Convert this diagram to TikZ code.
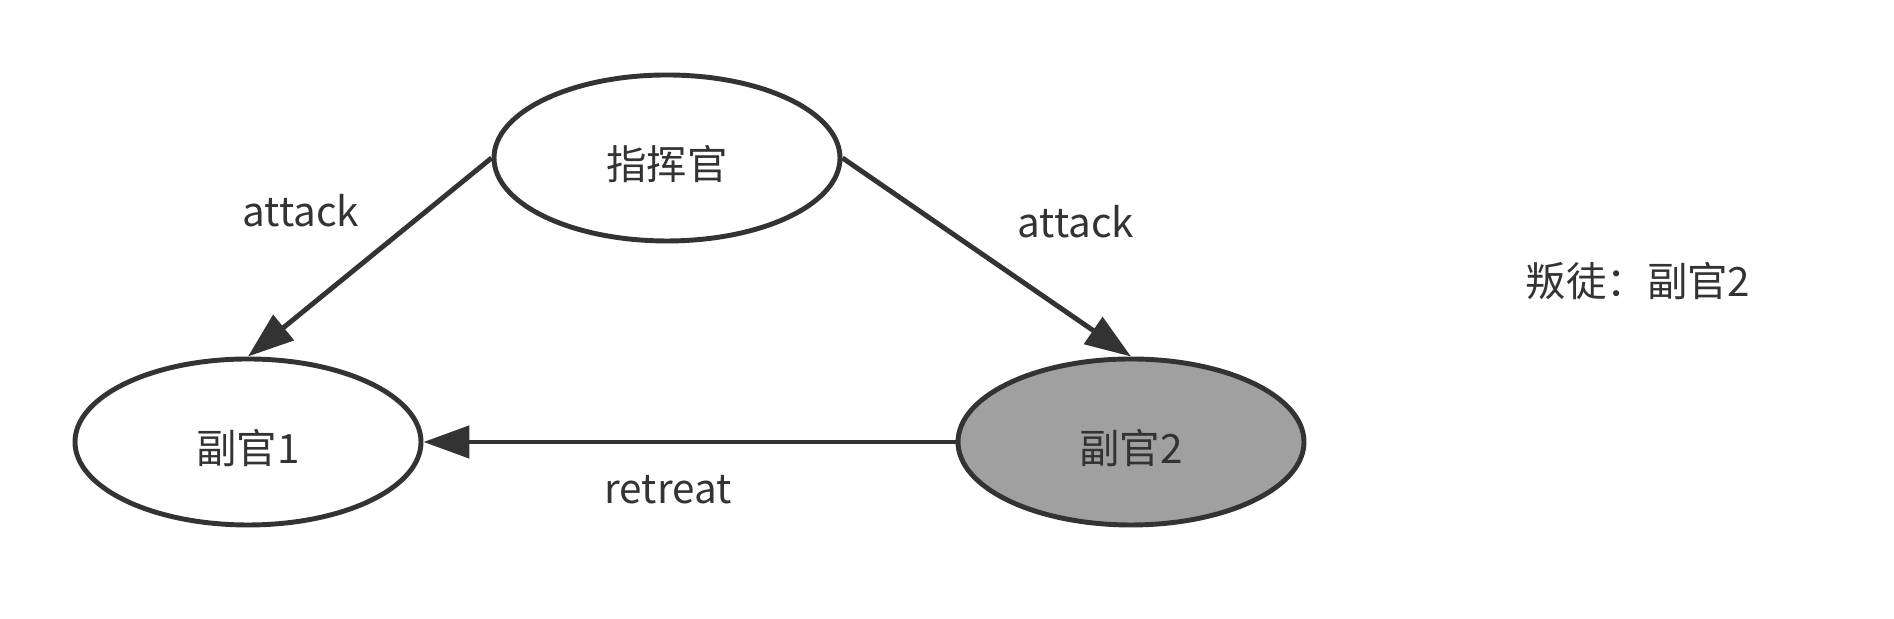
\documentclass[tikz,border=0pt]{standalone}
\usepackage{xcolor}
\usepackage{fontspec}
\setmainfont{Noto Sans CJK SC}
\usepackage{tikz}
\usetikzlibrary{positioning, shapes.geometric, arrows.meta}

\definecolor{linegray}{HTML}{333333}
\definecolor{traitorgray}{HTML}{A0A0A0}

\begin{document}
\begin{tikzpicture}[
    general/.style={draw=linegray, ellipse, line width=1.4pt, minimum width=3.46cm, minimum height=1.66cm, inner sep=0pt, text height=0.48cm, text depth=0.05cm, text=linegray, font=\fontsize{11.5pt}{14pt}\selectfont},
    msg/.style={->, >={Triangle[length=0.46cm, width=0.32cm]}, draw=linegray, line width=1.4pt},
    lbl/.style={text=linegray, font=\fontsize{11.5pt}{14pt}\selectfont}
  ]
        \useasboundingbox (0,0) rectangle (18.94,6.19);

        % Nodi
        \node[general] (cmd) at (6.67,4.61) {指挥官};
        \node[general] (lt1) at (2.48,1.77) {副官1};
        \node[general, fill=traitorgray] (lt2) at (11.31,1.77) {副官2};

        % Etichette
        \node[lbl] (atk1) at (3.01,4.08) {attack};
        \node[lbl] (atk2) at (10.76,3.97) {attack};
        \node[lbl] (ret) at (6.68,1.29) {retreat};
        \node[lbl] (traitor) at (16.38,3.38) {叛徒：副官2};

        % Frecce
        \draw[msg] (cmd.west) -- (lt1.north);
        \draw[msg] (cmd.east) -- (lt2.north);
        \draw[msg] (lt2.west) -- (lt1.east);

    \end{tikzpicture}
\end{document}
